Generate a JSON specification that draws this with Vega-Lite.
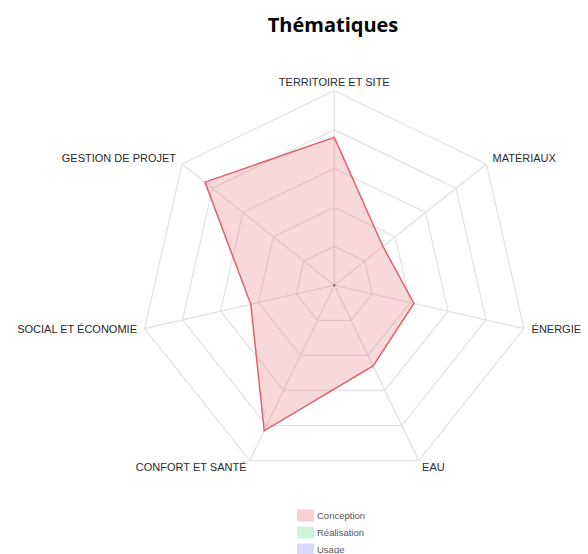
{
  "$schema": "https://vega.github.io/schema/vega-lite/v6.json",
  "width": 588,
  "height": 504,
  "autosize": {"type": "none"},
  "padding": {"top": 50, "left": 0, "right": 0, "bottom": 0},
  "background": "white",
  "title": {"text": "Thématiques", "font": "Open Sans", "fontSize": 20, "fontWeight": "bold", "color": "#000000", "anchor": "middle", "dx": 39, "offset": 14},
  "config": {"view": {"stroke": null}},
  "datasets": {
    "themes": [
      {"theme": "TERRITOIRE ET SITE", "serie": "Conception", "value": 76},
      {"theme": "MATÉRIAUX", "serie": "Conception", "value": 32},
      {"theme": "ÉNERGIE", "serie": "Conception", "value": 42},
      {"theme": "EAU", "serie": "Conception", "value": 46},
      {"theme": "CONFORT ET SANTÉ", "serie": "Conception", "value": 83},
      {"theme": "SOCIAL ET ÉCONOMIE", "serie": "Conception", "value": 44},
      {"theme": "GESTION DE PROJET", "serie": "Conception", "value": 85}
    ],
    "grid": [
      {"level": 20, "theme": "TERRITOIRE ET SITE"}, {"level": 20, "theme": "MATÉRIAUX"}, {"level": 20, "theme": "ÉNERGIE"}, {"level": 20, "theme": "EAU"}, {"level": 20, "theme": "CONFORT ET SANTÉ"}, {"level": 20, "theme": "SOCIAL ET ÉCONOMIE"}, {"level": 20, "theme": "GESTION DE PROJET"},
      {"level": 40, "theme": "TERRITOIRE ET SITE"}, {"level": 40, "theme": "MATÉRIAUX"}, {"level": 40, "theme": "ÉNERGIE"}, {"level": 40, "theme": "EAU"}, {"level": 40, "theme": "CONFORT ET SANTÉ"}, {"level": 40, "theme": "SOCIAL ET ÉCONOMIE"}, {"level": 40, "theme": "GESTION DE PROJET"},
      {"level": 60, "theme": "TERRITOIRE ET SITE"}, {"level": 60, "theme": "MATÉRIAUX"}, {"level": 60, "theme": "ÉNERGIE"}, {"level": 60, "theme": "EAU"}, {"level": 60, "theme": "CONFORT ET SANTÉ"}, {"level": 60, "theme": "SOCIAL ET ÉCONOMIE"}, {"level": 60, "theme": "GESTION DE PROJET"},
      {"level": 80, "theme": "TERRITOIRE ET SITE"}, {"level": 80, "theme": "MATÉRIAUX"}, {"level": 80, "theme": "ÉNERGIE"}, {"level": 80, "theme": "EAU"}, {"level": 80, "theme": "CONFORT ET SANTÉ"}, {"level": 80, "theme": "SOCIAL ET ÉCONOMIE"}, {"level": 80, "theme": "GESTION DE PROJET"},
      {"level": 100, "theme": "TERRITOIRE ET SITE"}, {"level": 100, "theme": "MATÉRIAUX"}, {"level": 100, "theme": "ÉNERGIE"}, {"level": 100, "theme": "EAU"}, {"level": 100, "theme": "CONFORT ET SANTÉ"}, {"level": 100, "theme": "SOCIAL ET ÉCONOMIE"}, {"level": 100, "theme": "GESTION DE PROJET"}
    ]
  },
  "layer": [
    {
      "data": {"name": "grid"},
      "transform": [
        {"window": [{"op": "row_number", "as": "rn"}], "groupby": ["level"]},
        {"calculate": "2 * PI * (datum.rn - 1) / 7", "as": "ang"},
        {"calculate": "datum.level * sin(datum.ang)", "as": "gx"},
        {"calculate": "datum.level * cos(datum.ang)", "as": "gy"}
      ],
      "mark": {"type": "line", "interpolate": "linear-closed", "stroke": "#e2e2e2", "strokeWidth": 1.2},
      "encoding": {
        "x": {"field": "gx", "type": "quantitative", "scale": {"domain": [-171.8, 130.4], "nice": false, "zero": false}, "axis": null},
        "y": {"field": "gy", "type": "quantitative", "scale": {"domain": [-138.1, 120.9], "nice": false, "zero": false}, "axis": null},
        "detail": {"field": "level", "type": "nominal"},
        "order": {"field": "rn", "type": "quantitative"}
      }
    },
    {
      "data": {"name": "themes"},
      "transform": [
        {"window": [{"op": "row_number", "as": "rn"}]},
        {"calculate": "2 * PI * (datum.rn - 1) / 7", "as": "ang"},
        {"calculate": "100 * sin(datum.ang)", "as": "ox"},
        {"calculate": "100 * cos(datum.ang)", "as": "oy"},
        {"calculate": "0", "as": "cx"},
        {"calculate": "0", "as": "cy"}
      ],
      "mark": {"type": "rule", "stroke": "#e0e0e0", "strokeWidth": 1.2},
      "encoding": {
        "x": {"field": "cx", "type": "quantitative"},
        "y": {"field": "cy", "type": "quantitative"},
        "x2": {"field": "ox"},
        "y2": {"field": "oy"}
      }
    },
    {
      "data": {"name": "themes"},
      "transform": [
        {"window": [{"op": "row_number", "as": "rn"}]},
        {"calculate": "2 * PI * (datum.rn - 1) / 7", "as": "ang"},
        {"calculate": "datum.value * sin(datum.ang)", "as": "px"},
        {"calculate": "datum.value * cos(datum.ang)", "as": "py"}
      ],
      "mark": {"type": "line", "interpolate": "linear-closed", "stroke": "#e0626a", "strokeWidth": 1.5, "fillOpacity": 0.25},
      "encoding": {
        "x": {"field": "px", "type": "quantitative"},
        "y": {"field": "py", "type": "quantitative"},
        "order": {"field": "rn", "type": "quantitative"},
        "fill": {
          "field": "serie", "type": "nominal",
          "scale": {"domain": ["Conception", "Réalisation", "Usage"], "range": ["#e8656d", "#5fd47f", "#7f7fe6"]},
          "legend": {
            "title": null,
            "orient": "none",
            "legendX": 297,
            "legendY": 457,
            "direction": "vertical",
            "symbolType": "M-1,-0.7H1V0.7H-1Z",
            "symbolSize": 289,
            "symbolOpacity": 0.3,
            "symbolStrokeWidth": 0,
            "symbolStrokeColor": "transparent",
            "labelFont": "Liberation Sans",
            "labelFontSize": 9.5,
            "labelColor": "#555555",
            "rowPadding": 2,
            "labelOffset": 3,
            "padding": 0
          }
        }
      }
    },
    {
      "data": {"name": "themes"},
      "transform": [
        {"filter": "datum.theme == 'EAU'"},
        {"calculate": "0", "as": "cx"},
        {"calculate": "0", "as": "cy"}
      ],
      "mark": {"type": "point", "filled": true, "color": "#444444", "size": 4, "opacity": 1},
      "encoding": {
        "x": {"field": "cx", "type": "quantitative"},
        "y": {"field": "cy", "type": "quantitative"}
      }
    },
    {
      "data": {"name": "themes"},
      "transform": [
        {"window": [{"op": "row_number", "as": "rn"}]},
        {"calculate": "2 * PI * (datum.rn - 1) / 7", "as": "ang"},
        {"calculate": "104 * sin(datum.ang)", "as": "lx"},
        {"calculate": "104 * cos(datum.ang)", "as": "ly"},
        {"filter": "datum.rn == 1"}
      ],
      "mark": {"type": "text", "align": "center", "baseline": "middle", "font": "Liberation Sans", "fontSize": 11, "color": "#2a2a2a"},
      "encoding": {
        "x": {"field": "lx", "type": "quantitative"},
        "y": {"field": "ly", "type": "quantitative"},
        "text": {"field": "theme"}
      }
    },
    {
      "data": {"name": "themes"},
      "transform": [
        {"window": [{"op": "row_number", "as": "rn"}]},
        {"calculate": "2 * PI * (datum.rn - 1) / 7", "as": "ang"},
        {"calculate": "104 * sin(datum.ang)", "as": "lx"},
        {"calculate": "104 * cos(datum.ang)", "as": "ly"},
        {"filter": "datum.rn >= 2 && datum.rn <= 4"}
      ],
      "mark": {"type": "text", "align": "left", "baseline": "middle", "font": "Liberation Sans", "fontSize": 11, "color": "#2a2a2a"},
      "encoding": {
        "x": {"field": "lx", "type": "quantitative"},
        "y": {"field": "ly", "type": "quantitative"},
        "text": {"field": "theme"}
      }
    },
    {
      "data": {"name": "themes"},
      "transform": [
        {"window": [{"op": "row_number", "as": "rn"}]},
        {"calculate": "2 * PI * (datum.rn - 1) / 7", "as": "ang"},
        {"calculate": "104 * sin(datum.ang)", "as": "lx"},
        {"calculate": "104 * cos(datum.ang)", "as": "ly"},
        {"filter": "datum.rn >= 5"}
      ],
      "mark": {"type": "text", "align": "right", "baseline": "middle", "font": "Liberation Sans", "fontSize": 11, "color": "#2a2a2a"},
      "encoding": {
        "x": {"field": "lx", "type": "quantitative"},
        "y": {"field": "ly", "type": "quantitative"},
        "text": {"field": "theme"}
      }
    }
  ]
}
